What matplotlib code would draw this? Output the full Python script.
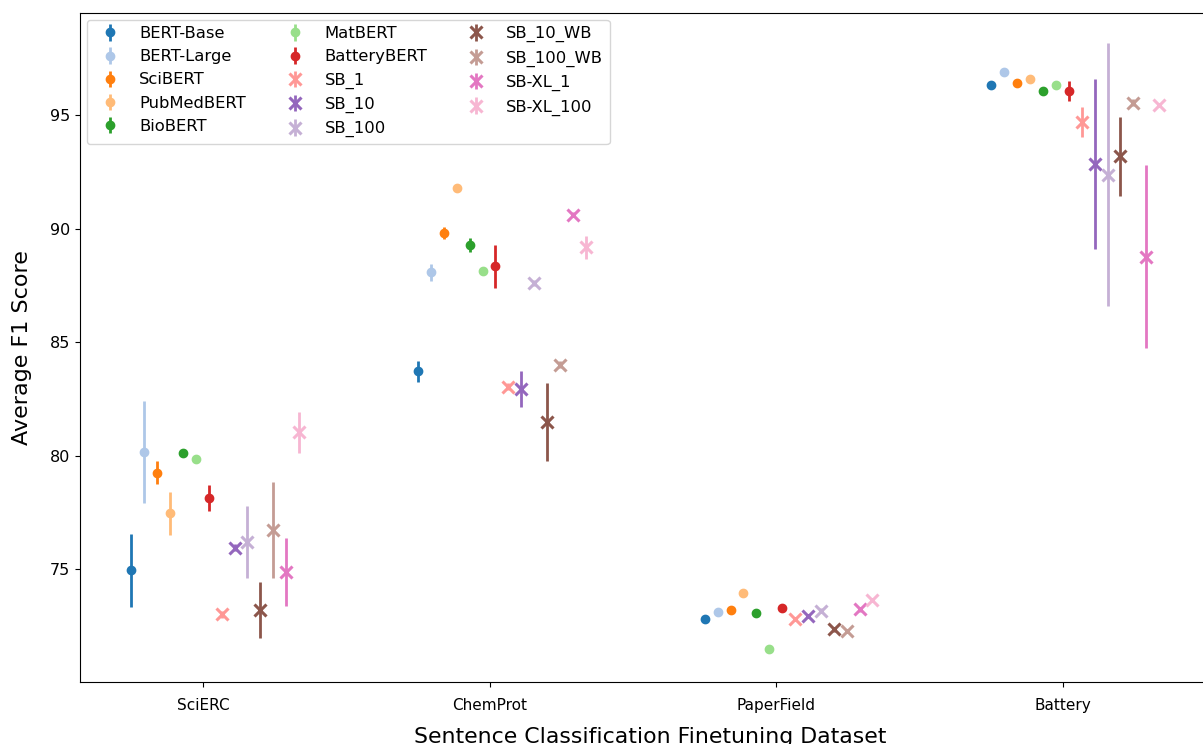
import matplotlib
matplotlib.use("Agg")
import matplotlib.pyplot as plt
import numpy as np

datasets = ["SciERC", "ChemProt", "PaperField", "Battery"]

models = ["BERT-Base", "BERT-Large", "SciBERT", "PubMedBERT", "BioBERT", "MatBERT",
          "BatteryBERT", "SB_1", "SB_10", "SB_100", "SB_10_WB", "SB_100_WB",
          "SB-XL_1", "SB-XL_100"]

# mean F1 per model, order: SciERC, ChemProt, PaperField, Battery
bert_base = [74.94, 83.71, 72.81, 96.32]
bert_large = [80.14, 88.07, 73.09, 96.89]
scibert = [79.24, 89.80, 73.18, 96.40]
pubmedbert = [77.45, 91.78, 73.93, 96.59]
biobert = [80.12, 89.27, 73.05, 96.07]
matbert = [79.83, 88.14, 71.48, 96.33]
batterybert = [78.13, 88.33, 73.27, 96.07]
sb_1 = [73.00, 83.03, 72.78, 94.68]
sb_10 = [75.94, 82.93, 72.93, 92.84]
sb_100 = [76.19, 87.60, 73.16, 92.38]
sb_10_wb = [73.19, 81.49, 72.34, 93.18]
sb_100_wb = [76.72, 84.00, 72.27, 95.54]
sb_xl_1 = [74.88, 90.61, 73.22, 88.76]
sb_xl_100 = [81.02, 89.17, 73.63, 95.44]

# standard deviations
bert_base_err = [1.60, 0.46, 0.10, 0.10]
bert_large_err = [2.25, 0.36, 0.05, 0.05]
scibert_err = [0.50, 0.26, 0.05, 0.05]
pubmedbert_err = [0.95, 0.10, 0.05, 0.05]
biobert_err = [0.10, 0.30, 0.05, 0.10]
matbert_err = [0.05, 0.05, 0.05, 0.05]
batterybert_err = [0.56, 0.94, 0.05, 0.43]
sb_1_err = [0.15, 0.15, 0.05, 0.66]
sb_10_err = [0.15, 0.80, 0.10, 3.76]
sb_100_err = [1.58, 0.15, 0.10, 5.79]
sb_10_wb_err = [1.24, 1.71, 0.10, 1.75]
sb_100_wb_err = [2.10, 0.15, 0.10, 0.15]
sb_xl_1_err = [1.50, 0.10, 0.10, 4.04]
sb_xl_100_err = [0.90, 0.49, 0.10, 0.10]

means = [bert_base, bert_large, scibert, pubmedbert, biobert, matbert, batterybert,
         sb_1, sb_10, sb_100, sb_10_wb, sb_100_wb, sb_xl_1, sb_xl_100]
errs = [bert_base_err, bert_large_err, scibert_err, pubmedbert_err, biobert_err,
        matbert_err, batterybert_err, sb_1_err, sb_10_err, sb_100_err, sb_10_wb_err,
        sb_100_wb_err, sb_xl_1_err, sb_xl_100_err]

colors = plt.get_cmap("tab20").colors

fig = plt.figure(figsize=(12.03, 7.44), dpi=100)
# axes run past the right edge, as in the (cropped) original
ax = fig.add_axes([80 / 1203, 62 / 744, 1140 / 1203, 669 / 744])

x = np.arange(len(datasets))
step = 0.045
for j, name in enumerate(models):
    off = -0.25 + j * step
    if j < 7:
        ax.errorbar(x + off, means[j], yerr=errs[j], fmt="o", color=colors[j],
                    markersize=6, elinewidth=2, label=name)
    else:
        ax.errorbar(x + off, means[j], yerr=errs[j], fmt="x", color=colors[j],
                    markersize=9, markeredgewidth=2.2, elinewidth=2, label=name)

ax.set_xticks(x)
ax.set_xticklabels(datasets, fontsize=11)
ax.tick_params(axis="x", pad=8)
ax.set_yticks([75, 80, 85, 90, 95])
ax.tick_params(axis="y", labelsize=11.5)
ax.set_xlim(-0.429, -0.429 + 1140 / 286.7)
ax.set_ylim(70.02, 99.5)
ax.set_xlabel("Sentence Classification Finetuning Dataset", fontsize=15.8, labelpad=10)
ax.set_ylabel("Average F1 Score", fontsize=16, labelpad=13)
ax.legend(ncol=3, loc="upper left", fontsize=11.8, borderaxespad=0.4)

plt.savefig("out.png", dpi=100)
